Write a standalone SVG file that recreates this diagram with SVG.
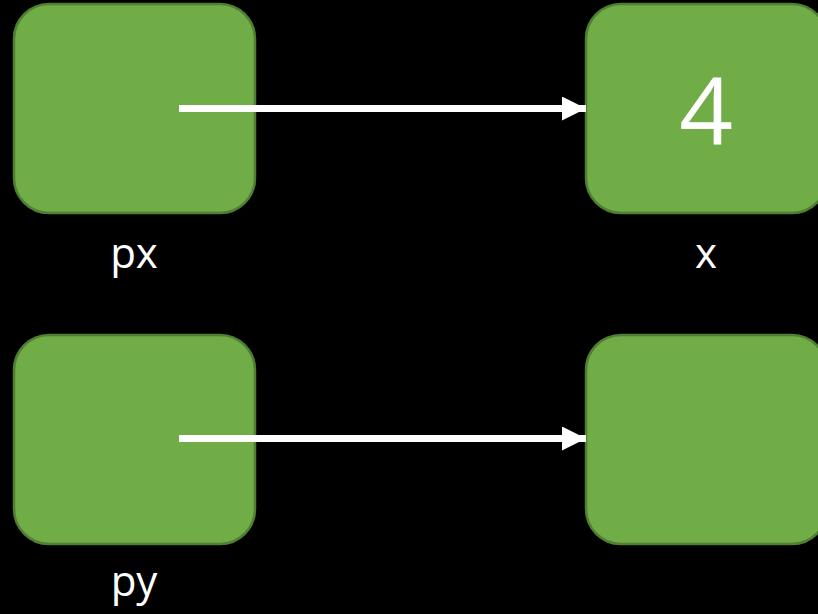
<svg xmlns="http://www.w3.org/2000/svg" width="818" height="614" viewBox="0 0 818 614">
<style>
.box{fill:#70AD47;stroke:#507E32;stroke-width:2.5}
.lbl{font-family:"Open Sans","Liberation Sans",sans-serif;font-size:42px;fill:#fff;text-anchor:middle}
.big{font-family:"Open Sans","Liberation Sans",sans-serif;font-size:94px;fill:#fff;text-anchor:middle}
.conn{stroke:#fff;stroke-width:7;fill:none}
</style>
<defs>
<marker id="ah" markerUnits="userSpaceOnUse" markerWidth="26" markerHeight="26" refX="24" refY="12" orient="auto">
<path d="M0,0 L24,12 L0,24 Z" fill="#fff"/>
</marker>
</defs>
<rect width="818" height="614" fill="#000"/>
<g id="px"><rect class="box" x="14" y="4" width="241" height="209" rx="35"/><text class="lbl" x="134" y="268">px</text></g>
<g id="x"><rect class="box" x="586" y="4" width="241" height="209" rx="35"/><text class="big" x="706" y="145">4</text><text class="lbl" x="706" y="268">x</text></g>
<g id="py"><rect class="box" x="14" y="335" width="241" height="209" rx="35"/><text class="lbl" x="134" y="596">py</text></g>
<g id="y"><rect class="box" x="586" y="335" width="241" height="209" rx="35"/></g>
<g id="connectors">
<line class="conn" x1="179" y1="108.5" x2="586" y2="108.5" marker-end="url(#ah)"/>
<line class="conn" x1="179" y1="438.5" x2="586" y2="438.5" marker-end="url(#ah)"/>
</g>
</svg>
